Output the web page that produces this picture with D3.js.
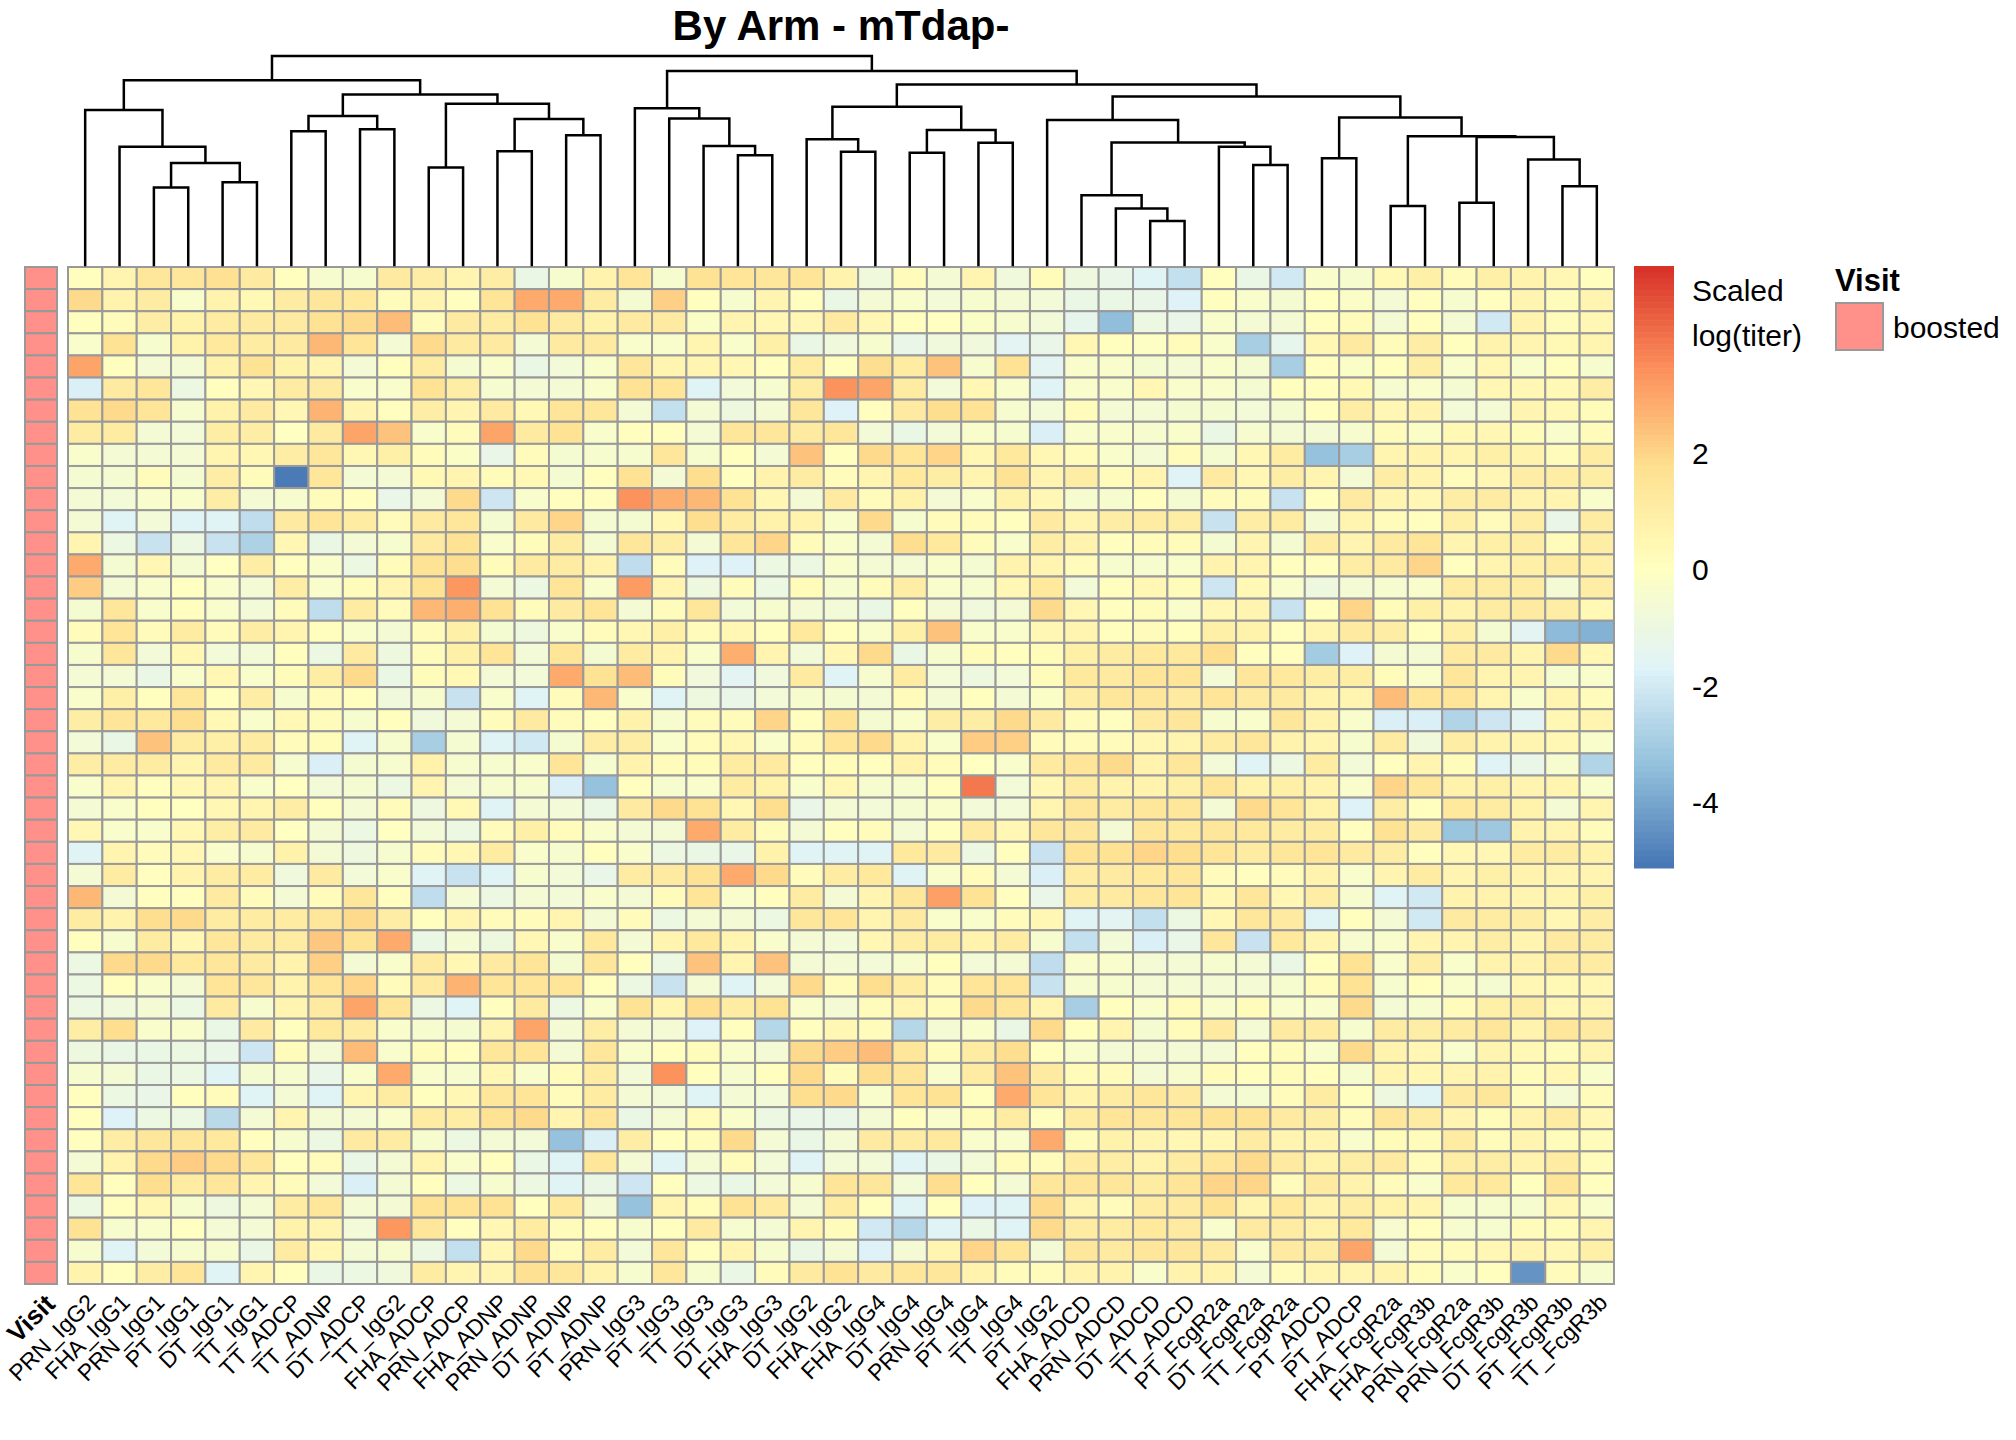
<!DOCTYPE html>
<html>
<head>
<meta charset="utf-8">
<script src="https://cdn.jsdelivr.net/npm/d3@7"></script>
<style>
  body { margin: 0; background: #fff; }
  svg { display: block; }
  text { font-family: "Liberation Sans", Arial, sans-serif; fill: #000; }
</style>
</head>
<body>
<svg id="chart" width="2016" height="1440"></svg>
<script>
// column labels, in dendrogram order
const colLabels = ["PRN_IgG2","FHA_IgG1","PRN_IgG1","PT_IgG1","DT_IgG1","TT_IgG1","TT_ADCP","TT_ADNP",
  "DT_ADCP","TT_IgG2","FHA_ADCP","PRN_ADCP","FHA_ADNP","PRN_ADNP","DT_ADNP","PT_ADNP","PRN_IgG3",
  "PT_IgG3","TT_IgG3","DT_IgG3","FHA_IgG3","DT_IgG2","FHA_IgG2","FHA_IgG4","DT_IgG4","PRN_IgG4",
  "PT_IgG4","TT_IgG4","PT_IgG2","FHA_ADCD","PRN_ADCD","DT_ADCD","TT_ADCD","PT_FcgR2a","DT_FcgR2a",
  "TT_FcgR2a","PT_ADCD","PT_ADCP","FHA_FcgR2a","FHA_FcgR3b","PRN_FcgR2a","PRN_FcgR3b","DT_FcgR3b",
  "PT_FcgR3b","TT_FcgR3b"];

// column dendrogram: [merge height, left, right], leaves are column indices
const colTree = [161.7,
  [143,
    [120, 0, [91.5, 1, [79, [60, 2, 3], [64, 4, 5]]]],
    [132, [115.2, [103.4, 6, 7], [105, 8, 9]],
          [124.8, [75.5, 10, 11], [113, [88, 12, 13], [100.3, 14, 15]]]]],
  [150,
    [121.2, 16, [113.4, 17, [92, 18, [85, 19, 20]]]],
    [139.7,
      [122.4, [97.2, 21, [87.6, 22, 23]], [104.4, [86.8, 24, 25], [94.6, 26, 27]]],
      [130.4,
        [112.1, 28, [94.8, [54, 29, [43.8, 30, [34, 31, 32]]], [91.5, 33, [77.3, 34, 35]]]],
        [114.2, [82.5, 36, 37],
          [99.7, [45.6, 38, 39], [99, [48.1, 40, 41], [81.7, 42, [61, 43, 44]]]]]]]]];

// scaled log(titer), one row per sample
const values = [
 [0.1,0.6,1.4,1.4,1.7,1.2,0.1,-0.4,-0.4,1.2,1.0,0.6,1.0,-1.1,-0.4, 0.7,1.5,-0.4,1.6,1.5,1.4,1.5,0.7,-0.8,0.2,-0.6,0.6,-0.8,0.3,-0.9, -1.2,-1.6,-2.3,0.1,-1.1,-2.0,-0.3,-0.4,0.4,0.9,0.2,0.9,0.7,0.5,0.1],
 [1.9,0.7,1.1,-0.3,0.7,0.4,1.1,1.4,1.3,0.2,0.6,0.1,1.5,2.9,2.9, 1.1,-0.5,2.1,0.1,-0.4,0.6,0.1,-1.1,-0.6,-0.3,-0.7,-0.4,-0.6,-0.7,-1.1, -1.1,-1.2,-1.7,0.1,-0.3,-0.5,0.0,-0.2,-0.6,0.1,-0.4,0.1,0.6,0.2,0.6],
 [0.1,0.2,1.0,0.8,1.1,1.2,1.2,1.6,1.9,2.5,0.2,1.2,1.1,1.6,1.2, 0.8,1.2,1.2,-0.2,0.6,0.5,0.5,1.2,0.5,0.1,0.0,-0.2,-0.4,-0.7,-1.3, -3.4,-1.0,-1.2,-0.3,-0.6,-0.6,0.1,0.2,-0.6,0.1,-0.6,-2.0,0.7,0.2,0.5],
 [-0.3,1.6,-0.4,0.8,1.3,1.1,1.2,2.6,1.5,-0.6,1.9,1.2,1.2,-0.6,1.2, 1.2,-0.3,-0.3,0.6,-0.3,0.9,-1.1,-0.8,-0.4,-1.2,-0.8,-0.8,-1.5,-1.2,0.5, 0.1,-0.1,0.2,-0.3,-2.9,-1.3,0.5,1.2,0.2,1.0,0.1,0.7,0.6,0.4,0.6],
 [3.0,0.1,-0.6,-0.6,0.8,1.6,0.8,0.6,-0.6,0.1,1.1,-0.5,-0.3,-1.1,-0.7, -0.3,1.4,0.6,0.6,0.5,0.1,1.1,0.1,1.8,1.1,2.4,-0.4,1.6,-1.5,-0.3, -0.3,-0.5,-0.6,-0.3,-0.5,-2.9,0.1,-0.2,0.1,1.0,-0.3,0.5,-0.3,0.1,-0.4],
 [-1.8,1.2,1.4,-1.0,0.1,0.5,1.1,1.2,-0.3,-0.3,1.6,1.0,-0.4,-0.6,-0.6, -0.3,1.6,1.5,-1.6,-0.7,-0.4,1.1,3.4,3.0,1.1,-0.7,0.5,-0.3,-1.6,-0.3, -0.3,0.5,-0.3,-0.3,-0.5,0.1,0.1,0.4,-0.4,-0.3,-0.5,0.5,0.5,0.4,1.0],
 [1.6,1.9,1.5,-0.4,0.8,1.2,0.5,2.7,0.6,0.1,1.0,0.6,1.2,0.4,1.5, 1.4,-0.6,-2.3,-0.6,-0.9,-0.6,1.4,-1.7,0.1,1.2,1.8,1.6,-0.4,-0.7,0.2, -0.6,-0.6,-0.5,-0.5,-0.7,-0.5,0.1,1.0,0.5,0.7,-0.7,-0.6,0.6,0.4,0.3],
 [1.1,1.1,-0.6,-0.7,1.0,1.0,0.0,1.2,3.0,2.4,-0.3,0.2,3.0,1.2,1.6, -0.3,0.1,0.1,-0.6,1.4,1.4,1.2,1.4,-0.7,-1.1,-0.7,-0.3,-0.4,-1.8,-0.3, -0.3,-0.4,-0.3,-1.1,-0.4,-0.6,-0.6,-0.4,0.2,-0.2,0.4,0.5,0.3,-0.3,0.2],
 [-0.3,-0.6,-0.6,-0.6,0.6,0.5,1.0,1.4,0.5,0.9,0.2,-0.2,-1.2,0.2,-0.5, -0.4,-0.4,1.4,-0.4,0.1,-0.6,2.4,0.1,1.9,1.5,2.0,0.5,1.3,0.5,0.2, -0.3,-0.6,0.2,-0.5,0.5,1.1,-3.3,-2.9,0.6,0.7,0.6,0.9,0.7,0.2,1.1],
 [-0.5,-0.5,0.2,-0.5,1.0,0.2,-5.0,1.4,-0.6,-0.6,0.4,0.6,0.3,0.4,-0.5, 0.1,1.6,-0.6,1.8,0.1,0.7,1.1,0.2,0.6,1.3,1.0,0.6,1.6,0.6,1.0, 0.2,0.6,-1.6,1.2,0.5,1.0,0.6,-0.6,1.0,0.7,0.2,0.5,1.0,1.0,1.0],
 [-0.6,-0.7,-0.3,-0.3,1.0,-0.6,-0.4,0.2,0.1,-1.2,-0.6,1.9,-2.1,-0.3,0.1, 0.1,3.4,2.8,2.6,1.6,0.5,-0.6,1.2,0.2,0.8,-0.6,-0.3,0.8,0.5,-0.4, -0.4,0.1,-0.5,0.2,0.2,-2.2,0.1,1.2,0.6,0.5,1.0,1.1,0.7,0.6,-0.3],
 [-0.6,-1.6,-0.7,-1.6,-1.6,-2.4,1.2,1.5,1.1,0.2,1.2,1.4,-0.5,1.2,2.0, -0.5,-0.5,0.5,1.8,1.1,0.8,0.7,-0.3,1.9,-0.4,0.2,0.2,0.1,1.2,0.6, 1.0,1.1,1.0,-2.2,1.0,1.1,-0.6,0.6,0.2,0.1,0.9,0.2,1.0,-1.2,1.1],
 [0.6,-1.0,-2.2,-1.0,-2.2,-2.8,0.5,-1.1,-0.6,-0.4,1.2,1.6,-0.3,0.2,1.1, -0.5,1.4,1.0,-0.6,1.4,2.0,0.2,-0.3,-0.6,1.8,1.3,0.2,-0.3,1.0,0.7, 0.1,0.2,0.2,-0.5,0.6,-0.5,1.1,0.6,1.2,1.5,0.6,0.9,1.0,0.2,1.0],
 [2.9,-0.5,0.5,-0.5,0.0,1.0,0.1,-0.3,-1.0,0.3,1.6,1.8,0.3,1.2,1.1, 0.7,-2.4,0.2,-1.7,-1.7,-1.0,-1.0,-0.3,-0.6,-0.6,-0.3,-0.5,0.7,0.6,0.2, -0.4,-0.4,-0.3,0.7,0.6,0.1,0.1,1.0,1.2,2.0,0.1,0.6,0.9,1.1,0.9],
 [2.2,-0.6,-0.3,0.0,-0.3,-0.6,1.0,-0.3,0.2,0.6,1.6,3.3,-0.6,-1.0,1.5, -0.3,3.2,0.6,-0.9,0.2,-1.0,0.3,-0.4,0.2,1.0,-0.3,-0.4,0.5,1.3,-0.7, 0.1,0.5,0.2,-2.1,0.4,-0.3,-0.9,-0.6,-0.4,-0.3,1.1,1.1,1.1,-0.6,1.0],
 [-0.5,1.4,-0.3,0.1,-0.3,-0.7,0.2,-2.4,1.1,0.2,2.6,2.8,1.6,0.2,1.2, 1.5,-0.6,0.2,1.4,-0.7,-0.4,-0.6,-0.7,-1.1,0.1,-0.6,-0.8,-0.6,1.9,0.5, 0.1,0.2,-0.3,0.5,0.6,-2.2,0.1,2.0,0.3,0.9,0.7,1.1,1.2,1.0,0.4],
 [0.2,1.5,0.2,1.1,0.2,1.0,0.6,0.1,-0.3,-0.6,0.2,0.9,-0.5,-0.9,-0.3, 0.2,0.5,0.9,0.2,0.5,0.1,1.3,0.1,-0.3,0.9,2.4,-0.3,-0.3,0.5,0.6, 0.1,0.2,0.1,0.9,0.8,0.1,0.6,1.2,1.0,0.1,0.9,-0.5,-1.5,-3.5,-3.7],
 [-0.4,1.4,-0.7,0.5,-0.7,-0.7,0.1,-1.0,1.2,-0.9,0.2,0.9,1.5,-0.7,1.5, -0.5,1.1,0.7,-0.3,2.8,0.6,-0.7,0.5,1.9,-1.1,-0.4,0.2,0.1,0.3,0.9, 1.1,1.3,1.3,1.8,0.1,0.1,-3.0,-1.7,-0.5,-0.6,1.2,1.2,0.6,1.9,0.5],
 [-0.6,-0.6,-1.1,-0.3,0.5,-0.3,0.2,1.0,1.9,-1.1,0.2,0.4,-0.6,-0.7,2.9, 1.6,2.5,0.2,-0.8,-1.5,-0.8,1.2,-1.6,-0.4,1.1,-0.7,-0.9,-0.7,0.2,1.3, 1.2,1.5,1.5,-0.6,1.4,1.3,1.0,1.0,0.2,-0.3,1.4,0.6,0.6,-0.4,-0.3],
 [-0.3,0.9,0.1,1.4,0.1,1.0,-0.4,0.2,0.1,-0.8,-0.4,-2.2,-0.3,-1.6,0.2, 2.6,-0.3,-1.6,-0.9,-1.2,-0.7,-0.4,-0.5,-0.6,0.2,-0.6,0.1,-0.6,-0.2,1.0, 1.4,1.4,1.2,1.5,1.2,1.2,0.7,0.6,2.5,1.5,1.5,0.6,-0.3,0.6,0.2],
 [1.0,1.5,1.3,1.8,0.4,-0.3,0.4,0.2,-0.4,0.1,-0.8,-0.6,0.2,1.2,0.2, 0.1,0.8,-0.4,0.2,0.2,2.0,0.1,1.6,-0.5,-0.3,1.0,1.0,1.9,1.2,0.2, 0.1,1.2,1.4,-0.4,-0.3,1.4,0.7,-0.3,-1.8,-1.8,-2.7,-2.1,-1.5,0.5,0.6],
 [-0.7,-1.1,2.4,1.1,0.9,1.1,0.2,0.3,-1.6,-0.4,-2.9,-0.5,-1.6,-2.0,-0.5, 1.0,1.0,-0.3,0.2,0.5,-0.3,0.2,1.5,1.9,0.7,-0.3,2.2,2.1,0.2,0.2, 0.2,0.5,0.6,1.1,1.4,0.7,0.6,-0.4,1.1,-0.8,1.0,0.7,0.6,0.5,-0.3],
 [1.0,1.1,1.1,0.6,1.2,1.2,-0.4,-1.8,-0.5,-0.4,0.8,-0.4,-0.4,-0.3,1.5, -0.4,0.7,0.2,0.3,1.1,1.2,0.1,0.3,0.1,0.7,0.2,0.0,-0.3,1.2,1.5, 1.9,0.7,1.4,-0.7,-1.6,-1.0,1.1,-0.7,0.1,0.6,0.2,-1.6,-1.2,-0.4,-2.7],
 [-0.3,0.6,0.1,0.5,0.6,-0.3,0.0,-0.7,-0.5,-1.0,0.6,-0.6,-0.4,-0.4,-1.8, -3.3,0.1,-0.4,-0.3,1.1,0.8,-0.3,0.5,-0.4,-0.4,0.1,3.9,-0.7,0.5,1.1, 0.7,0.7,0.9,1.5,0.8,0.9,0.7,-0.3,2.0,1.4,0.8,0.9,0.6,0.6,-0.3],
 [-0.6,-0.3,0.1,0.0,0.5,0.6,1.0,0.1,-0.6,0.2,-0.9,0.4,-1.6,-0.6,-0.7, -1.1,1.2,1.9,1.6,0.5,1.8,-1.2,-0.6,-0.7,-0.5,-0.3,-0.7,-0.7,0.6,1.4, 1.1,1.4,1.4,-0.6,1.9,1.5,0.8,-1.7,1.0,0.1,1.3,1.1,0.8,-0.6,0.6],
 [0.5,-0.3,-0.3,0.5,1.0,1.2,0.0,-0.6,-1.0,0.0,-0.7,-1.0,0.2,0.9,0.2, -0.3,-0.6,-0.6,2.9,1.1,0.2,-0.6,0.1,0.2,-0.6,0.1,1.2,0.5,1.4,1.4, -0.6,1.4,1.3,1.4,1.3,1.1,1.1,0.1,1.6,1.2,-3.2,-3.1,0.7,0.6,0.2],
 [-1.6,0.6,0.2,0.5,-0.3,-0.4,0.8,-0.6,-0.9,-0.4,0.2,0.5,1.1,-0.3,-0.4, 0.1,-0.3,-1.0,-1.1,-1.2,0.8,-1.6,-1.6,-1.6,1.3,1.2,-1.0,0.1,-2.2,1.6, 1.6,2.0,1.8,1.5,1.1,1.4,1.5,1.2,1.0,0.1,0.5,0.5,1.1,1.1,0.8],
 [-0.6,1.1,0.1,0.7,1.1,1.1,-0.8,1.2,-0.7,-0.3,-1.6,-2.2,-1.6,-0.4,-0.7, -1.2,1.1,1.2,1.6,2.9,1.9,0.2,1.1,1.3,-1.6,-0.3,0.2,-0.6,-1.8,1.1, 1.2,1.3,1.4,0.2,0.1,0.2,0.7,-0.3,0.6,1.1,0.6,0.9,0.7,0.6,0.6],
 [2.6,-0.6,0.1,0.1,1.2,0.2,-0.6,0.2,1.4,0.1,-2.4,-0.6,-1.0,-0.6,-0.7, -0.3,-0.6,0.2,1.5,-0.3,0.1,1.1,-0.6,0.6,1.4,3.1,1.6,0.1,-1.2,1.1, 1.2,1.4,1.5,0.5,1.4,0.5,1.0,-0.4,-1.6,-2.0,0.7,0.7,0.6,0.6,0.9],
 [1.1,0.7,1.8,1.9,1.1,1.1,1.1,1.4,1.9,1.0,0.1,0.6,0.2,0.2,0.6, -0.6,0.2,-1.0,-0.6,-0.6,-1.0,1.4,1.5,0.6,1.2,-0.3,-0.3,0.2,0.5,-1.6, -1.5,-2.3,-1.0,0.5,1.4,1.2,-1.6,0.1,-0.6,-2.0,1.2,1.1,1.0,0.5,1.0],
 [0.1,-0.4,1.1,0.5,1.4,1.2,1.1,2.3,1.6,2.9,-1.1,-0.6,-0.9,0.5,-0.3, 1.3,-0.6,0.6,1.3,0.6,-0.3,-0.6,-0.7,0.5,1.0,1.1,0.7,1.1,-0.4,-2.3, -0.7,-1.8,-1.2,1.4,-2.2,1.3,0.6,-0.4,-0.3,0.6,0.6,1.0,0.6,1.2,1.1],
 [-1.0,1.9,1.9,1.3,1.4,1.2,0.7,2.1,-0.6,-0.3,1.2,0.5,1.2,1.5,-0.5, 1.4,0.1,-1.0,2.4,0.6,2.4,-0.6,-0.6,-0.7,-0.4,0.1,-0.7,-0.6,-2.4,-0.3, -0.3,-0.6,-0.6,-0.4,-0.6,-1.1,0.1,1.6,-0.3,1.0,-0.3,0.7,0.7,1.1,1.1],
 [-1.0,0.1,-0.3,-0.6,1.5,1.4,0.7,1.5,2.0,0.2,1.2,2.7,1.5,1.5,1.5, 0.1,-1.0,-2.2,-0.6,-1.6,-0.7,1.9,0.2,1.8,1.1,0.2,1.5,1.5,-2.2,-0.4, -0.4,-0.6,-0.6,-0.6,-0.6,-0.4,0.2,1.6,-0.4,0.1,-0.3,-0.5,0.5,0.4,0.5],
 [-1.0,-0.8,-0.6,-1.0,1.2,-0.4,0.6,1.2,3.0,1.5,-1.0,-1.6,0.1,1.2,-1.0, -0.3,1.6,0.6,1.8,1.1,1.6,-0.3,-0.6,0.2,0.6,0.2,1.9,1.5,0.6,-2.9, 0.1,-0.3,0.2,-0.3,0.2,-0.3,-0.3,1.9,-0.6,-0.4,0.2,0.9,1.0,0.5,0.6],
 [1.0,1.8,-0.3,-0.3,-1.1,1.2,0.1,1.3,1.1,-0.3,-0.4,-0.5,0.6,3.0,-0.6, 1.0,-0.6,-0.6,-1.7,0.1,-2.6,0.1,0.5,0.2,-2.6,-0.6,-0.3,-1.1,1.9,0.1, 0.6,-0.5,0.2,1.2,-0.6,1.2,1.1,-0.4,1.1,1.0,1.1,1.4,0.7,1.4,1.2],
 [-0.9,-1.1,-1.1,-1.0,-1.2,-2.1,0.2,-0.6,2.5,-0.3,0.2,0.1,1.4,1.5,-0.6, 1.4,-0.3,0.1,0.2,-0.3,-0.6,1.9,2.2,2.5,1.4,0.2,1.1,1.8,0.1,-0.3, -0.6,-0.6,-0.6,-0.6,0.1,0.2,-0.3,1.9,0.7,0.5,-0.3,0.6,0.4,0.2,0.6],
 [-0.4,-0.6,-1.1,-1.0,-1.6,-0.5,-0.4,-1.2,-0.3,2.9,-0.3,-0.4,0.5,-0.3,0.2, 1.1,-0.7,3.4,0.1,-0.4,0.1,1.9,0.2,1.8,1.5,-0.3,1.1,2.4,1.2,0.3, 0.2,-0.6,-0.4,0.2,0.1,0.2,0.1,-0.4,0.6,0.5,0.6,0.7,0.2,0.5,-0.3],
 [0.1,-1.0,-1.2,0.1,0.2,-1.6,-0.6,-1.6,0.6,1.1,0.1,0.5,1.4,1.5,0.2, 1.1,-0.6,-0.7,-1.6,-0.6,-0.7,1.8,1.9,-0.3,1.5,1.6,0.1,2.9,1.5,0.7, 1.1,1.4,1.2,-0.6,-0.5,0.2,1.1,0.1,-0.9,-1.6,1.2,1.4,0.2,-0.6,0.2],
 [0.1,-1.7,-1.0,-1.0,-2.5,-0.6,0.6,-0.6,-0.6,-0.3,1.1,1.0,1.6,1.9,0.6, 1.5,-1.1,-0.6,0.2,-0.3,-1.0,-1.2,-1.2,-0.6,0.1,-0.3,0.2,1.1,0.1,1.1, 1.5,1.4,1.5,1.6,1.6,1.2,1.0,0.2,1.4,1.1,0.6,0.3,0.7,1.1,0.5],
 [0.1,1.0,1.4,1.4,1.3,0.1,-0.4,-1.0,1.2,1.1,-0.4,-1.0,-0.6,-0.7,-3.3, -1.8,1.0,0.1,0.2,1.9,-0.6,-1.1,-0.6,1.2,1.1,1.3,-0.3,-0.3,2.9,0.2, 0.8,0.6,0.5,0.5,1.1,0.6,0.6,-0.3,0.3,0.2,1.1,0.2,0.6,0.2,0.2],
 [-0.6,0.7,1.9,2.2,1.9,1.4,0.1,0.2,-1.1,-0.6,0.6,-0.3,0.1,-1.1,-1.6, 1.4,-0.6,-1.6,-0.6,0.2,-0.7,-1.6,-0.7,-0.7,-1.6,-1.1,-0.7,0.2,0.2,1.1, 1.0,0.7,1.1,1.4,1.9,1.2,0.8,1.0,1.2,0.2,1.0,1.0,0.7,1.1,0.2],
 [1.5,0.1,1.8,1.1,1.4,0.6,0.2,-0.7,-1.8,-0.6,0.1,-1.0,-0.4,-1.0,-1.6, -1.1,-2.1,0.1,-1.0,-1.1,-0.7,-0.4,1.5,1.4,-0.7,1.8,0.1,-0.6,1.4,1.5, 1.4,1.1,1.5,2.0,2.0,0.2,1.2,0.7,0.2,-0.3,1.3,1.3,0.1,1.5,0.1],
 [-1.0,0.1,0.5,-0.4,-0.9,-0.6,1.1,1.4,-0.6,-0.6,1.6,1.6,1.6,0.1,1.3, -0.6,-3.3,0.6,0.3,1.6,1.2,-0.6,1.1,0.1,-1.6,0.1,-1.7,-1.6,1.9,0.6, 0.2,1.1,1.2,1.6,0.6,1.3,0.7,1.0,0.8,0.6,-0.4,-0.4,-0.4,0.5,-0.3],
 [1.6,-0.4,-0.3,0.0,-0.6,-0.6,0.8,0.6,-0.7,3.3,1.4,0.1,0.5,1.1,0.2, 0.1,-0.4,0.1,1.2,-0.4,-0.6,0.6,0.2,-2.0,-2.6,-1.6,-1.1,-1.6,1.9,1.1, 1.1,1.3,1.2,-0.3,1.2,1.1,0.8,1.3,-0.4,0.1,-0.4,-0.4,0.2,0.3,0.6],
 [-0.4,-1.6,-0.7,-0.4,-0.4,-1.1,1.1,0.5,-0.6,-0.4,-1.0,-2.3,0.5,1.9,0.2, 1.1,-0.7,1.4,0.1,0.6,-0.4,-1.1,-0.6,-1.7,-0.6,0.6,2.0,1.5,-0.6,1.4, 1.2,1.4,1.4,1.2,-0.3,1.2,1.1,3.0,-0.6,0.2,0.2,0.5,0.6,0.5,0.9],
 [0.7,0.1,1.0,1.5,-1.6,0.6,0.1,-1.1,-1.0,-0.8,1.1,0.6,0.6,1.7,1.4, 0.7,-0.4,1.4,-0.4,-1.1,0.2,1.2,1.6,1.2,1.4,1.4,0.7,0.2,0.2,0.7, 0.7,-0.3,0.7,0.7,-0.6,0.2,0.6,0.6,0.7,0.3,-0.3,0.1,-4.4,0.2,-0.4]
];

// sample annotation
const rowVisit = ["boosted","boosted","boosted","boosted","boosted","boosted","boosted","boosted",
  "boosted","boosted","boosted","boosted","boosted","boosted","boosted","boosted","boosted","boosted",
  "boosted","boosted","boosted","boosted","boosted","boosted","boosted","boosted","boosted","boosted",
  "boosted","boosted","boosted","boosted","boosted","boosted","boosted","boosted","boosted","boosted",
  "boosted","boosted","boosted","boosted","boosted","boosted","boosted","boosted"];
const visitLevels = ["boosted"];
const visitColors = ["#FF918A"];

// colour legend
const legendRange = [-5.13, 5.23];
const legendBreaks = [-4, -2, 0, 2];
const legendTitle = ["Scaled", "log(titer)"];
const palette = ["#4575B4", "#91BFDB", "#E0F3F8", "#FFFFBF", "#FEE090", "#FC8D59", "#D73027"];

const title = "By Arm - mTdap-";

const svg = d3.select("#chart");
svg.append("rect").attr("width", 2016).attr("height", 1440).attr("fill", "#fff");

const gridCol = "#999999";
let x = d3.scaleBand().domain(d3.range(colLabels.length)).range([68, 1614]);
let y = d3.scaleBand().domain(d3.range(values.length)).range([267, 1284]);

let stops = palette.map((c, i) => legendRange[0] + i * (legendRange[1] - legendRange[0]) / (palette.length - 1));
let color = d3.scaleLinear().domain(stops).range(palette).clamp(true);

// title
svg.append("text")
    .attr("x", (x.range()[0] + x.range()[1]) / 2)
    .attr("y", 40)
    .attr("text-anchor", "middle")
    .attr("font-size", 42)
    .attr("font-weight", "bold")
    .text(title);

// heatmap cells
let cells = svg.append("g");
values.forEach((row, i) => {
    cells.selectAll(null)
        .data(row)
        .enter().append("rect")
        .attr("x", (d, j) => x(j))
        .attr("y", y(i))
        .attr("width", x.bandwidth())
        .attr("height", y.bandwidth())
        .attr("fill", d => color(d))
        .attr("stroke", gridCol)
        .attr("stroke-width", 2);
});

// annotation column
let visitColor = d3.scaleOrdinal().domain(visitLevels).range(visitColors);
svg.append("g").selectAll("rect")
    .data(rowVisit)
    .enter().append("rect")
    .attr("x", 25)
    .attr("y", (d, i) => y(i))
    .attr("width", 32)
    .attr("height", y.bandwidth())
    .attr("fill", d => visitColor(d))
    .attr("stroke", gridCol)
    .attr("stroke-width", 2);

// column dendrogram
let hY = d3.scaleLinear().domain([0, colTree[0]]).range([265, 56]);
let dendro = d3.path();
function walk(node) {
    if (typeof node === "number") {
        return {x: x(node) + x.bandwidth() / 2, y: hY(0)};
    }
    let l = walk(node[1]);
    let r = walk(node[2]);
    let ny = hY(node[0]);
    dendro.moveTo(l.x, l.y);
    dendro.lineTo(l.x, ny);
    dendro.lineTo(r.x, ny);
    dendro.lineTo(r.x, r.y);
    return {x: (l.x + r.x) / 2, y: ny};
}
walk(colTree);
svg.append("path")
    .attr("d", dendro.toString())
    .attr("fill", "none")
    .attr("stroke", "#000")
    .attr("stroke-width", 2.5)
    .attr("stroke-linecap", "square");

// column labels
let labY = 1292;
svg.append("g").selectAll("text")
    .data(colLabels)
    .enter().append("text")
    .attr("transform", (d, j) => `translate(${x(j) + x.bandwidth() / 2},${labY}) rotate(-45)`)
    .attr("text-anchor", "end")
    .attr("dominant-baseline", "hanging")
    .attr("font-size", 23)
    .text(d => d);

svg.append("text")
    .attr("transform", `translate(43,${labY}) rotate(-45)`)
    .attr("text-anchor", "end")
    .attr("dominant-baseline", "hanging")
    .attr("font-size", 26)
    .attr("font-weight", "bold")
    .text("Visit");

// colour bar legend
let legY = d3.scaleLinear().domain(legendRange).range([868, 266]);
let nSteps = 100;
let legStep = (legendRange[1] - legendRange[0]) / nSteps;
let legVals = d3.range(nSteps).map(k => legendRange[0] + (k + 0.5) * legStep);
svg.append("g").selectAll("rect")
    .data(legVals)
    .enter().append("rect")
    .attr("x", 1634)
    .attr("y", d => legY(d + legStep / 2))
    .attr("width", 40)
    .attr("height", d => legY(d - legStep / 2) - legY(d + legStep / 2) + 0.5)
    .attr("fill", d => color(d));

svg.append("g").selectAll("text")
    .data(legendBreaks)
    .enter().append("text")
    .attr("x", 1692)
    .attr("y", d => legY(d))
    .attr("dominant-baseline", "central")
    .attr("font-size", 30)
    .text(d => d);

svg.append("g").selectAll("text")
    .data(legendTitle)
    .enter().append("text")
    .attr("x", 1692)
    .attr("y", (d, i) => 301 + i * 45)
    .attr("font-size", 30)
    .text(d => d);

// annotation legend
svg.append("text")
    .attr("x", 1835).attr("y", 291)
    .attr("font-size", 31)
    .attr("font-weight", "bold")
    .text("Visit");
svg.append("g").selectAll("rect")
    .data(visitLevels)
    .enter().append("rect")
    .attr("x", 1836)
    .attr("y", (d, i) => 303 + i * 48)
    .attr("width", 47)
    .attr("height", 47)
    .attr("fill", d => visitColor(d))
    .attr("stroke", gridCol)
    .attr("stroke-width", 2);
svg.append("g").selectAll("text")
    .data(visitLevels)
    .enter().append("text")
    .attr("x", 1893)
    .attr("y", (d, i) => 338 + i * 48)
    .attr("font-size", 30)
    .text(d => d);
</script>
</body>
</html>
